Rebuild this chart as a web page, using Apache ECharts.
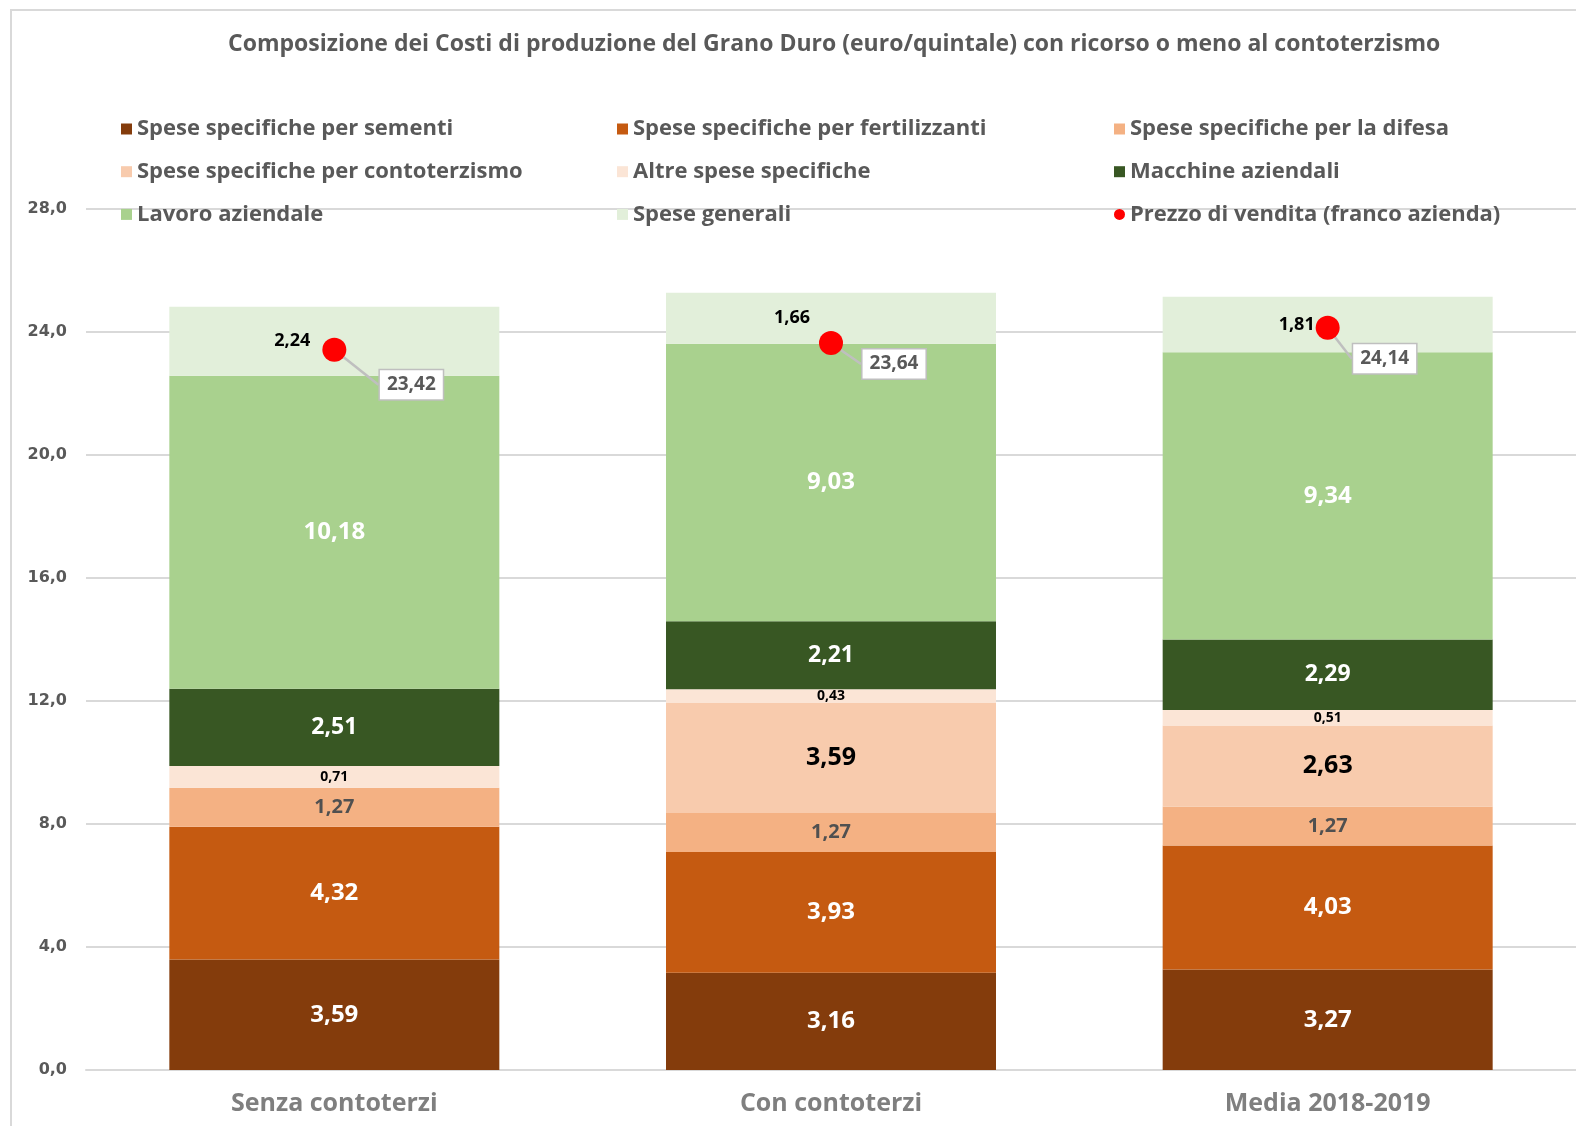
<!DOCTYPE html>
<html>
<head>
<meta charset="utf-8">
<title>Composizione dei Costi di produzione del Grano Duro</title>
<script src="https://cdn.jsdelivr.net/npm/echarts@6/dist/echarts.min.js"></script>
<style>
  html, body { margin: 0; padding: 0; background: #ffffff; }
  #chart { width: 1576px; height: 1126px; }
</style>
</head>
<body>
<div id="chart"></div>
<script>
// Categories and cost components (euro/quintale)
const categories = ['Senza contoterzi', 'Con contoterzi', 'Media 2018-2019'];
const sementi = [3.59, 3.16, 3.27];
const fertilizzanti = [4.32, 3.93, 4.03];
const difesa = [1.27, 1.27, 1.27];
const contoterzismo = [0, 3.59, 2.63];
const altreSpese = [0.71, 0.43, 0.51];
const macchine = [2.51, 2.21, 2.29];
const lavoro = [10.18, 9.03, 9.34];
const speseGenerali = [2.24, 1.66, 1.81];
const prezzoVendita = [23.42, 23.64, 24.14];

// Value axis range
const yMin = 0, yMax = 28, yStep = 4;

const FONT = '"Open Sans"';
const fmt = (v, d) => Number(v).toFixed(d).replace('.', ',');

// Label placement for the "Spese generali" segment (shifted left of the price dot)
const generaliLabelShift = [[-42, 0], [-39, 0], [-31, 0]];
// Callout placement of price labels relative to the dot
const prezzoCallout = [[77, 35], [63, 21], [57, 31]];

function stackSeries(name, values, color, labelColor, labelSize) {
  return {
    name: name,
    type: 'bar',
    stack: 'costi',
    barWidth: 330,
    itemStyle: { color: color },
    data: values.map(v => ({ value: v })),
    label: {
      show: true,
      position: 'inside',
      color: labelColor,
      fontFamily: FONT,
      fontWeight: 'bold',
      fontSize: labelSize,
      formatter: p => (p.value ? fmt(p.value, 2) : '')
    },
    emphasis: { disabled: true }
  };
}

const series = [
  stackSeries('Spese specifiche per sementi', sementi, '#843C0C', '#ffffff', 24),
  stackSeries('Spese specifiche per fertilizzanti', fertilizzanti, '#C55A11', '#ffffff', 24),
  stackSeries('Spese specifiche per la difesa', difesa, '#F4B183', '#505050', 20),
  stackSeries('Spese specifiche per contoterzismo', contoterzismo, '#F8CBAD', '#000000', 25),
  stackSeries('Altre spese specifiche', altreSpese, '#FBE5D6', '#000000', 14),
  stackSeries('Macchine aziendali', macchine, '#385723', '#ffffff', 23),
  stackSeries('Lavoro aziendale', lavoro, '#A9D18E', '#ffffff', 24),
  stackSeries('Spese generali', speseGenerali, '#E2EFDA', '#000000', 18),
  {
    name: 'Prezzo di vendita (franco azienda)',
    type: 'scatter',
    z: 5,
    symbol: 'circle',
    symbolSize: 24,
    itemStyle: { color: '#FF0000', opacity: 1 },
    data: prezzoVendita,
    label: {
      show: true,
      position: 'inside',
      formatter: p => fmt(p.value, 2),
      color: '#595959',
      fontFamily: FONT,
      fontWeight: 'bold',
      fontSize: 19,
      backgroundColor: '#ffffff',
      borderColor: '#BFBFBF',
      borderWidth: 1.5,
      padding: [6, 7, 4, 7]
    },
    labelLine: {
      show: true,
      lineStyle: { color: '#BFBFBF', width: 2.5 }
    },
    labelLayout: p => ({ dx: prezzoCallout[p.dataIndex][0], dy: prezzoCallout[p.dataIndex][1] }),
    emphasis: { disabled: true }
  }
];

// shift the "Spese generali" labels
series[7].data = speseGenerali.map((v, i) => ({
  value: v,
  label: { offset: generaliLabelShift[i] }
}));

const legendText = { color: '#595959', fontFamily: FONT, fontWeight: 'bold', fontSize: 22, lineHeight: 22 };
function legendCol(left, names) {
  return {
    orient: 'vertical',
    left: left,
    top: 113,
    itemWidth: 11,
    itemHeight: 11,
    itemGap: 20.7,
    icon: 'rect',
    selectedMode: false,
    textStyle: legendText,
    data: names.map(n => n === 'Prezzo di vendita (franco azienda)' ? { name: n, icon: 'circle', itemStyle: { opacity: 1 } } : { name: n })
  };
}

const option = {
  animation: false,
  backgroundColor: '#ffffff',
  title: {
    text: 'Composizione dei Costi di produzione del Grano Duro (euro/quintale) con ricorso o meno al contoterzismo',
    left: 223,
    top: 28,
    textStyle: { color: '#595959', fontFamily: FONT, fontWeight: 'bold', fontSize: 23 }
  },
  legend: [
    legendCol(116, ['Spese specifiche per sementi', 'Spese specifiche per contoterzismo', 'Lavoro aziendale']),
    legendCol(612, ['Spese specifiche per fertilizzanti', 'Altre spese specifiche', 'Spese generali']),
    legendCol(1109, ['Spese specifiche per la difesa', 'Macchine aziendali', 'Prezzo di vendita (franco azienda)'])
  ],
  grid: { left: 86, right: 0, top: 209, bottom: 56 },
  xAxis: {
    type: 'category',
    data: categories,
    axisTick: { show: false },
    axisLine: { show: true, lineStyle: { color: '#D9D9D9', width: 2 } },
    axisLabel: { color: '#7F7F7F', fontFamily: FONT, fontWeight: 'bold', fontSize: 25, margin: 21 }
  },
  yAxis: {
    type: 'value',
    min: yMin,
    max: yMax,
    interval: yStep,
    axisLine: { show: false },
    axisTick: { show: false },
    splitLine: { lineStyle: { color: '#D9D9D9', width: 2 } },
    axisLabel: {
      color: '#595959', fontFamily: '"DejaVu Sans"', fontWeight: 'bold', fontSize: 16, margin: 19,
      formatter: v => fmt(v, 1)
    }
  },
  graphic: [{
    type: 'rect',
    silent: true,
    z: -10,
    shape: { x: 11, y: 10, width: 1700, height: 1300 },
    style: { fill: 'none', stroke: '#D9D9D9', lineWidth: 2 }
  }],
  series: series
};

const chart = echarts.init(document.getElementById('chart'), null, { renderer: 'canvas' });
chart.setOption(option);
</script>
</body>
</html>
